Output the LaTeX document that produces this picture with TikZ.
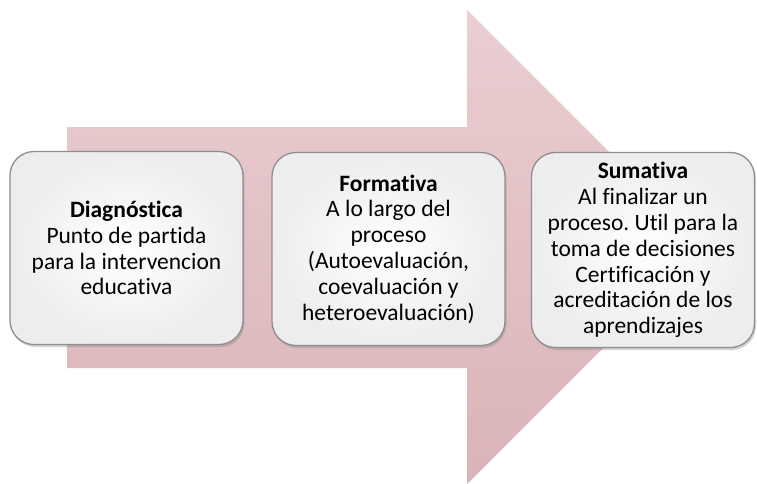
\documentclass[tikz,border=0pt]{standalone}
\usepackage{fontspec}
\setmainfont{Carlito}[RawFeature={-liga}]
\frenchspacing
\usetikzlibrary{shadows}
\definecolor{arrowtop}{HTML}{EACED1}
\definecolor{arrowbot}{HTML}{D9B3B7}
\definecolor{boxedge}{HTML}{8E8E8E}
\definecolor{boxouter}{HTML}{EDEDED}
\tikzset{
  stagebox/.style={rounded corners=24pt, draw=boxedge, line width=1.3pt,
    inner color=white, outer color=boxouter,
    drop shadow={shadow xshift=1.5pt, shadow yshift=-2.5pt, opacity=0.35},
    align=center, inner sep=2pt,
    font=\fontsize{23.5}{25.8}\selectfont, text=black},
  bigarrow/.style={top color=arrowtop, bottom color=arrowbot, draw=none}
}
\begin{document}
\begin{tikzpicture}[x=1pt,y=-1pt]
\useasboundingbox (0,0) rectangle (757,483);
\fill[white] (0,0) rectangle (757,483);
% big arrow
\path[bigarrow] (67,127) -- (467,127) -- (467,10) -- (704,247) -- (467,484) -- (467,368) -- (67,368) -- cycle;
% boxes
\node[stagebox, minimum width=233pt, minimum height=193pt] (d) at (126.5,248)
  {\textbf{Diagnóstica}\\Punto de partida\\para la intervencion\\educativa};
\node[stagebox, minimum width=233pt, minimum height=193pt] (f) at (388.5,249)
  {\textbf{Formativa}\\A lo largo del\\proceso\\(Autoevaluación,\\coevaluación y\\heteroevaluación)};
\node[stagebox, minimum width=223pt, minimum height=195pt] (s) at (643,250)
  {\textbf{Sumativa}\\Al finalizar un\\proceso. Util para la\\toma de decisiones\\Certificación y\\acreditación de los\\aprendizajes};
\end{tikzpicture}
\end{document}
